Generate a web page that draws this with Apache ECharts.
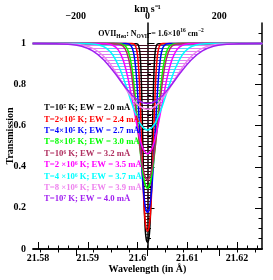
<!DOCTYPE html>
<html><head><meta charset="utf-8">
<script src="https://cdn.jsdelivr.net/npm/echarts@6/dist/echarts.min.js"></script>
<style>html,body{margin:0;padding:0;background:#fff}#c{width:273px;height:280px}</style>
</head><body><div id="c"></div>
<script>
// ---------- data ----------
const tempLabels = ['10⁵','2×10⁵','4×10⁵','8×10⁵','10⁶','2 ×10⁶','4 ×10⁶','8 ×10⁶','10⁷'];
const ewValues = ['2.0','2.4','2.7','3.0','3.2','3.5','3.7','3.9','4.0'];

// velocity (km/s) and transmission
const velBlack = [-320,-30.6,-25.5,-21.4,-18.3,-15.3,-12.2,-9.2,-6.1,-3.1,0,3.1,6.1,9.2,12.2,15.3,18.3,21.4,25.5,30.6,320];
const trBlack  = [1,0.9996,0.9934,0.959,0.8736,0.6952,0.4417,0.2155,0.0901,0.0427,0.0317,0.0427,0.0901,0.2155,0.4417,0.6952,0.8736,0.959,0.9934,0.9996,1];
const velRed = [-320,-43.2,-36.0,-30.3,-25.9,-21.6,-17.3,-13.0,-8.6,-4.3,0,4.3,8.6,13.0,17.3,21.6,25.9,30.3,36.0,43.2,320];
const trRed  = [1,0.9997,0.9953,0.9708,0.9088,0.773,0.5606,0.3373,0.1819,0.1072,0.0869,0.1072,0.1819,0.3373,0.5606,0.773,0.9088,0.9708,0.9953,0.9997,1];
const velBlue = [-320,-61.1,-51.0,-42.8,-36.7,-30.6,-24.5,-18.3,-12.2,-6.1,0,6.1,12.2,18.3,24.5,30.6,36.7,42.8,51.0,61.1,320];
const trBlue  = [1,0.9998,0.9967,0.9792,0.9346,0.8336,0.6642,0.4638,0.2997,0.2063,0.1778,0.2063,0.2997,0.4638,0.6642,0.8336,0.9346,0.9792,0.9967,0.9998,1];
const velGreen = [-320,-86.5,-72.1,-60.5,-51.9,-43.2,-34.6,-25.9,-17.3,-8.6,0,8.6,17.3,25.9,34.6,43.2,51.9,60.5,72.1,86.5,320];
const trGreen  = [1,0.9998,0.9976,0.9853,0.9533,0.8792,0.7488,0.5808,0.4265,0.3276,0.2948,0.3276,0.4265,0.5808,0.7488,0.8792,0.9533,0.9853,0.9976,0.9998,1];
const velMaroon = [-320,-96.7,-80.6,-67.7,-58.0,-48.4,-38.7,-29.0,-19.3,-9.7,0,9.7,19.3,29.0,38.7,48.4,58.0,67.7,80.6,96.7,320];
const trMaroon  = [1,0.9999,0.9979,0.9868,0.9581,0.8913,0.772,0.6151,0.4667,0.3685,0.3355,0.3685,0.4667,0.6151,0.772,0.8913,0.9581,0.9868,0.9979,0.9999,1];
const velMagenta = [-320,-136.7,-114.0,-95.7,-82.0,-68.4,-54.7,-41.0,-27.3,-13.7,0,13.7,27.3,41.0,54.7,68.4,82.0,95.7,114.0,136.7,320];
const trMagenta  = [1,0.9999,0.9985,0.9907,0.9702,0.9218,0.8328,0.7092,0.5834,0.4937,0.462,0.4937,0.5834,0.7092,0.8328,0.9218,0.9702,0.9907,0.9985,0.9999,1];
const velCyan = [-320,-193.4,-161.2,-135.4,-116.0,-96.7,-77.4,-58.0,-38.7,-19.3,0,19.3,38.7,58.0,77.4,96.7,116.0,135.4,161.2,193.4,320];
const trCyan  = [1,1,0.999,0.9934,0.9788,0.9441,0.8786,0.7843,0.6832,0.6071,0.5792,0.6071,0.6832,0.7843,0.8786,0.9441,0.9788,0.9934,0.999,1,1];
const velViolet = [-320,-273.5,-227.9,-191.4,-164.1,-136.7,-109.4,-82.0,-54.7,-27.3,0,27.3,54.7,82.0,109.4,136.7,164.1,191.4,227.9,273.5,320];
const trViolet  = [1,1,0.9993,0.9953,0.985,0.9601,0.9126,0.8421,0.7638,0.7026,0.6797,0.7026,0.7638,0.8421,0.9126,0.9601,0.985,0.9953,0.9993,1,1];
const velPurple = [-320,-305.8,-254.8,-214.1,-183.5,-152.9,-122.3,-91.7,-61.2,-30.6,0,30.6,61.2,91.7,122.3,152.9,183.5,214.1,254.8,305.8,320];
const trPurple  = [1,1,0.9993,0.9958,0.9866,0.9643,0.9215,0.8576,0.7859,0.7293,0.708,0.7293,0.7859,0.8576,0.9215,0.9643,0.9866,0.9958,0.9993,1,1];

// axes ticks
const waveTicks = [21.58,21.59,21.6,21.61,21.62];
const waveMinor = [21.582,21.584,21.586,21.588,21.592,21.594,21.596,21.598,21.602,21.604,21.606,21.608,21.612,21.614,21.616,21.618,21.622,21.624];
const velTicks = [-200,0,200];
const velMinor = [-300,-250,-150,-100,-50,50,100,150,250,300];
const yTicks = [0,0.2,0.4,0.6,0.8,1];
const yMinor = [0.05,0.1,0.15,0.25,0.3,0.35,0.45,0.5,0.55,0.65,0.7,0.75,0.85,0.9,0.95,1.05];

// ---------- styling ----------
const colors = ['#000000','#ff0000','#0000ff','#00ff00','#b03060','#ff00ff','#00ffff','#ee82ee','#a020f0'];
const profiles = [
  [velBlack,trBlack],[velRed,trRed],[velBlue,trBlue],[velGreen,trGreen],[velMaroon,trMaroon],
  [velMagenta,trMagenta],[velCyan,trCyan],[velViolet,trViolet],[velPurple,trPurple]
];
const names = tempLabels.map((t,i)=>'T='+t+' K; EW = '+ewValues[i]+' mÅ');
const FONT = 'Liberation Serif';

function hatch(color){
  const c=document.createElement('canvas'); c.width=4; c.height=3;
  const g=c.getContext('2d'); g.globalAlpha=0.6; g.fillStyle=color; g.fillRect(0,0,4,1);
  return {image:c, repeat:'repeat'};
}
const fmt = v => String(+(+v).toFixed(3));
const labelStyle = {fontFamily:FONT,fontWeight:'bold',fontSize:10,color:'#000'};

const series = [];
for (let i=profiles.length-1;i>=0;i--){
  const [vel,tr]=profiles[i];
  series.push({type:'line',xAxisIndex:2,yAxisIndex:0,data:vel.map((v,k)=>[v,tr[k]]),
    symbol:'none',smooth:0.3,silent:true,z:1,lineStyle:{width:0},
    areaStyle:{origin:1,color:hatch(colors[i]),opacity:1}});
}
for (let i=0;i<profiles.length;i++){
  const [vel,tr]=profiles[i];
  series.push({name:names[i],type:'line',xAxisIndex:2,yAxisIndex:0,data:vel.map((v,k)=>[v,tr[k]]),
    symbol:'none',smooth:0.3,silent:true,z:3,lineStyle:{width:1.5,color:colors[i]},itemStyle:{color:colors[i]}});
}

const axLine = {show:true,lineStyle:{color:'#000',width:1.5}};
const chart = echarts.init(document.getElementById('c'),null,{renderer:'canvas'});
chart.setOption({
  animation:false,
  backgroundColor:'#fff',
  grid:{left:33,right:11,top:23,bottom:31,containLabel:false,outerBoundsMode:'none'},
  legend:{orient:'vertical',left:34,top:98.5,icon:'none',itemWidth:0,itemHeight:8,itemGap:2.4,selectedMode:false,
    textStyle:{fontFamily:FONT,fontWeight:'bold',fontSize:8.7},
    data:names.map((n,i)=>({name:n,textStyle:{color:colors[i]}}))},
  xAxis:[
    {type:'value',position:'bottom',min:21.579,max:21.625,axisLine:axLine,splitLine:{show:false},
     axisTick:{inside:true,length:7,customValues:waveTicks,lineStyle:{color:'#000',width:1}},
     axisLabel:{customValues:waveTicks,formatter:fmt,margin:4,...labelStyle},
     name:'Wavelength (in Å)',nameLocation:'middle',nameGap:15,nameMoveOverlap:false,nameTextStyle:labelStyle},
    {type:'value',position:'bottom',min:21.579,max:21.625,axisLine:{show:false},splitLine:{show:false},
     axisTick:{inside:true,length:3.5,customValues:waveMinor,lineStyle:{color:'#000',width:1}},axisLabel:{show:false}},
    {type:'value',position:'top',min:-319.2,max:319.2,axisLine:axLine,splitLine:{show:false},
     axisTick:{inside:true,length:7,customValues:velTicks,lineStyle:{color:'#000',width:1}},
     axisLabel:{customValues:velTicks,formatter:v=>String(v).replace('-','−'),margin:2,...labelStyle},
     name:'km s⁻¹',nameLocation:'middle',nameGap:9,nameMoveOverlap:false,nameTextStyle:labelStyle},
    {type:'value',position:'top',min:-319.2,max:319.2,axisLine:{show:false},splitLine:{show:false},
     axisTick:{inside:true,length:3.5,customValues:velMinor,lineStyle:{color:'#000',width:1}},axisLabel:{show:false}}
  ],
  yAxis:[
    {type:'value',position:'left',min:0,max:1.1,axisLine:axLine,splitLine:{show:false},
     axisTick:{inside:true,length:7,customValues:yTicks,lineStyle:{color:'#000',width:1}},
     axisLabel:{customValues:yTicks,formatter:fmt,margin:7,...labelStyle},
     name:'Transmission',nameLocation:'middle',nameGap:18,nameRotate:90,nameMoveOverlap:false,nameTextStyle:labelStyle},
    {type:'value',position:'left',min:0,max:1.1,axisLine:{show:false},splitLine:{show:false},
     axisTick:{inside:true,length:3.5,customValues:yMinor,lineStyle:{color:'#000',width:1}},axisLabel:{show:false}},
    {type:'value',position:'right',min:0,max:1.1,axisLine:axLine,splitLine:{show:false},
     axisTick:{inside:true,length:7,customValues:yTicks,lineStyle:{color:'#000',width:1}},axisLabel:{show:false}},
    {type:'value',position:'right',min:0,max:1.1,axisLine:{show:false},splitLine:{show:false},
     axisTick:{inside:true,length:3.5,customValues:yMinor,lineStyle:{color:'#000',width:1}},axisLabel:{show:false}}
  ],
  graphic:[{type:'text',x:151,y:28,z:10,style:{
    text:'{n|OVII}{s|Heα}{n|: N}{s|OVII}{n| = 1.6×10}{p|16}{n| cm}{p|−2}',
    align:'center',verticalAlign:'top',
    rich:{
      n:{fontFamily:FONT,fontWeight:'bold',fontSize:8,lineHeight:12,verticalAlign:'middle',fill:'#000'},
      s:{fontFamily:FONT,fontWeight:'bold',fontSize:5.5,lineHeight:6,verticalAlign:'bottom',fill:'#000'},
      p:{fontFamily:FONT,fontWeight:'bold',fontSize:5.5,lineHeight:6,verticalAlign:'top',fill:'#000'}
    }}}],
  series:series
});
</script></body></html>
